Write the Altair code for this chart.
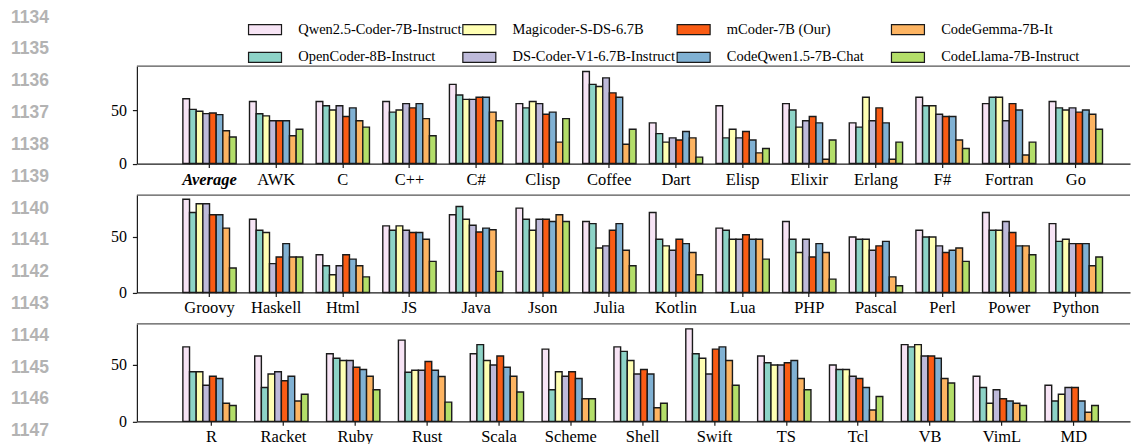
import altair as alt
import pandas as pd

# bar order inside each language group (also legend order, filled column by column)
MODELS = [
    "Qwen2.5-Coder-7B-Instruct",
    "OpenCoder-8B-Instruct",
    "Magicoder-S-DS-6.7B",
    "DS-Coder-V1-6.7B-Instruct",
    "mCoder-7B (Our)",
    "CodeQwen1.5-7B-Chat",
    "CodeGemma-7B-It",
    "CodeLlama-7B-Instruct",
]
COLORS = ["#F7E4F5", "#8DD3C7", "#FFFFB3", "#BEBADA", "#FA5C14", "#80B1D3", "#FDB462", "#B3DE69"]

LANGS_1 = ["Average", "AWK", "C", "C++", "C#", "Clisp", "Coffee", "Dart", "Elisp",
           "Elixir", "Erlang", "F#", "Fortran", "Go"]
VALUES_1 = [
    [60.6, 50.6, 48.8, 46.6, 47.2, 45.7, 30.7, 24.8],
    [58, 46.5, 44.5, 40, 40, 40, 26, 32],
    [58, 54, 50, 54, 44, 52, 40, 34],
    [58, 48, 50, 56, 52, 56, 42, 26],
    [74, 64, 60, 60, 62, 62, 48, 40],
    [56, 52, 58, 56, 46, 48, 20, 42],
    [86, 74, 72, 80, 66, 62, 18, 32],
    [38, 28, 20, 24, 22, 30, 24, 6],
    [54, 24, 32, 24, 30, 22, 10, 14],
    [56, 50, 34, 40, 44, 38, 4, 22],
    [38, 34, 62, 40, 52, 38, 4, 20],
    [62, 54, 54, 46, 44, 44, 22, 14],
    [56, 62, 62, 40, 56, 50, 8, 20],
    [58, 52, 50, 52, 48, 50, 46, 32],
]

LANGS_2 = ["Groovy", "Haskell", "Html", "JS", "Java", "Json", "Julia", "Kotlin", "Lua",
           "PHP", "Pascal", "Perl", "Power", "Python"]
VALUES_2 = [
    [84, 72, 80, 80, 70, 70, 58, 22],
    [66, 56, 54, 26, 32, 44, 32, 32],
    [34, 24, 16, 24, 34, 30, 24, 14],
    [60, 56, 60, 56, 54, 54, 48, 28],
    [70, 77.5, 66, 60.5, 54.5, 58, 56.5, 19],
    [76, 66, 56, 66, 66, 64, 70, 64],
    [64, 62, 40, 42, 56, 62, 38, 24],
    [72, 48, 42, 38, 48, 44, 36, 16],
    [58, 56, 48, 48, 52, 48, 48, 30],
    [64, 48, 36, 48, 32, 44, 36, 12],
    [50, 48, 48, 38, 42, 46, 14, 6],
    [56, 50, 50, 42, 36, 38, 40, 28],
    [72, 56, 56, 64, 54, 42, 42, 34],
    [62, 46, 48, 44, 44, 44, 24, 32],
]

LANGS_3 = ["R", "Racket", "Ruby", "Rust", "Scala", "Scheme", "Shell", "Swift", "TS",
           "Tcl", "VB", "VimL", "MD"]
VALUES_3 = [
    [66, 44, 44, 32, 40, 38, 16, 14],
    [58, 30, 42, 44, 36, 40, 18, 24],
    [60, 56, 54, 54, 48, 46, 40, 28],
    [72, 43.5, 45.3, 45.3, 53, 45.3, 39.7, 17],
    [60, 68, 54, 50, 58, 48, 40, 26],
    [64, 28, 44, 40, 44, 38, 20, 20],
    [66, 62, 54, 42, 46, 42, 12, 16],
    [82, 60, 56, 42, 64, 66, 54, 32],
    [58, 52, 50, 50, 52, 54, 38, 28],
    [50, 46, 46, 40, 38, 30, 10, 22],
    [68, 66, 68, 58, 58, 56, 38, 34],
    [40, 30, 16, 28, 20, 18, 16, 14],
    [32, 18, 24, 30, 30, 18, 8, 14],
]
Y_MAX = [91, 87.8, 86.4]
LINE_NUMBERS = list(range(1134, 1148))

PLOT_W = 994
PLOT_H = 97.5
FULL_W = 1012.5
SERIF = "Liberation Serif"
INK = "#1a1a1a"


def frame(langs, vals):
    rows = []
    for lang, vs in zip(langs, vals):
        for m, v in zip(MODELS, vs):
            rows.append({"lang": lang, "model": m, "value": v})
    return pd.DataFrame(rows)


LEGEND = alt.Legend(
    orient="none", legendX=247, legendY=-44, columns=4, title=None, gridAlign="all",
    symbolType="M-3,-0.9H3V0.9H-3Z", symbolSize=121,
    symbolStrokeColor=INK, symbolStrokeWidth=1.2, symbolOpacity=1,
    labelFont=SERIF, labelFontSize=14.5, labelColor="black", labelOffset=26,
    columnPadding=-2.5, rowPadding=12, labelLimit=400,
)


def panel(langs, vals, ymax):
    n = len(langs)
    step = FULL_W / (1.1 * (n - 0.2))
    left = step * 0.05 * (n - 0.2)
    extra = PLOT_W / step - (n - 0.2)
    po = extra / 2
    align = left / (extra * step)
    df = frame(langs, vals)
    y_enc = alt.Y(
        "value:Q", scale=alt.Scale(domain=[0, ymax], nice=False),
        axis=alt.Axis(title=None, values=[0, 50], grid=False, labelFont=SERIF,
                      labelFontSize=16, labelColor="black", tickSize=4.5, labelPadding=6),
    )
    bars = alt.Chart(df).mark_bar(stroke=INK, strokeWidth=1.4, opacity=1).encode(
        x=alt.X(
            "lang:N", sort=langs,
            scale=alt.Scale(paddingInner=0.2, paddingOuter=po, align=align),
            axis=alt.Axis(
                title=None, labelAngle=0, labelFont=SERIF, labelFontSize=16.5,
                labelColor="black", tickSize=4, labelPadding=3.5,
                labelFontWeight={"condition": {"test": "datum.value == 'Average'", "value": "bold"}, "value": "normal"},
                labelFontStyle={"condition": {"test": "datum.value == 'Average'", "value": "italic"}, "value": "normal"},
            ),
        ),
        xOffset=alt.XOffset("model:N", sort=MODELS, scale=alt.Scale(paddingInner=0, paddingOuter=0)),
        y=y_enc,
        color=alt.Color("model:N", scale=alt.Scale(domain=MODELS, range=COLORS), legend=LEGEND),
    )
    top = alt.Chart(pd.DataFrame({"value": [ymax]})).mark_rule(color="#555", strokeWidth=1.2).encode(
        y=y_enc
    )
    return alt.layer(bars, top).properties(width=PLOT_W, height=PLOT_H)


p1 = panel(LANGS_1, VALUES_1, Y_MAX[0])
p2 = panel(LANGS_2, VALUES_2, Y_MAX[1])
p3 = panel(LANGS_3, VALUES_3, Y_MAX[2])
panels = alt.vconcat(p1, p2, p3, spacing=31, bounds="flush")

ln = alt.Chart(pd.DataFrame({"n": LINE_NUMBERS})).mark_text(
    align="left", baseline="middle", font="Liberation Sans", fontWeight="bold",
    fontSize=17.5, color="#b3b3b3"
).encode(
    y=alt.Y("n:Q", scale=alt.Scale(domain=[1134, 1147], range=[-48.5, 365.5], nice=False, zero=False), axis=None),
    x=alt.value(0),
    text=alt.Text("n:Q", format="d"),
).properties(width=60, height=PLOT_H * 3 + 62)

chart = alt.hconcat(ln, panels, spacing=66, bounds="flush").properties(
    padding={"left": 3, "top": 0, "right": 0, "bottom": 0}
).configure_view(stroke=None).configure_axis(
    domainColor=INK, tickColor=INK, domainWidth=1.2, tickWidth=1.2
)

chart.save("out.html", embed_options={"renderer": "svg", "actions": False})
